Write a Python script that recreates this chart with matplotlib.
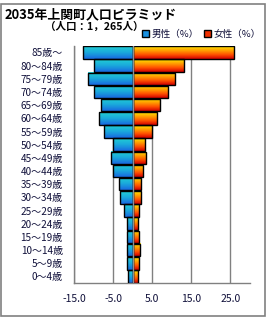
import numpy as np
import matplotlib
matplotlib.use('Agg')
import matplotlib.pyplot as plt
from matplotlib.colors import LinearSegmentedColormap
from matplotlib.patches import Rectangle, Patch

plt.rcParams['font.family'] = ['Noto Sans CJK JP', 'DejaVu Sans']

# age groups, top to bottom
ages = ['85歳～', '80～84歳', '75～79歳', '70～74歳', '65～69歳', '60～64歳',
        '55～59歳', '50～54歳', '45～49歳', '40～44歳', '35～39歳', '30～34歳',
        '25～29歳', '20～24歳', '15～19歳', '10～14歳', '5～9歳', '0～4歳']
male = [12.8, 10.0, 11.3, 10.0, 8.2, 8.7, 7.2, 4.9, 5.6, 4.9,
        3.6, 3.3, 2.3, 1.5, 1.5, 1.5, 1.5, 1.3]
female = [25.9, 13.0, 10.8, 9.0, 6.9, 6.2, 5.0, 3.1, 3.3, 2.6,
          2.1, 2.1, 1.5, 1.3, 1.5, 1.8, 1.5, 1.3]
xticks = [-15, -5, 5, 15, 25]

male_cmap = LinearSegmentedColormap.from_list('m', ['#1868e0', '#1aa8dc', '#22d0d4'])
female_cmap = LinearSegmentedColormap.from_list('f', ['#d00000', '#ff5000', '#ffa000', '#ffe800'])

fig = plt.figure(figsize=(2.7, 3.2), dpi=100)
ax = fig.add_axes([0.274, 0.1156, 0.652, 0.741])

y = np.arange(len(ages))[::-1]
h = 0.95
grad = np.linspace(0, 1, 64).reshape(-1, 1)

for yi, m, f in zip(y, male, female):
    ax.imshow(grad, extent=[-m, 0, yi - h / 2, yi + h / 2], origin='lower',
              aspect='auto', cmap=male_cmap, zorder=2)
    ax.imshow(grad, extent=[0, f, yi - h / 2, yi + h / 2], origin='lower',
              aspect='auto', cmap=female_cmap, zorder=2)

ax.barh(y, [-v for v in male], height=h, fill=False, edgecolor='black', lw=1, zorder=3)
ax.barh(y, female, height=h, fill=False, edgecolor='black', lw=1, zorder=3)
ax.axvline(0, color='#909090', lw=1, zorder=4)

ax.set_xlim(-15, 30)
ax.set_ylim(-0.5, len(ages) - 0.5)
ax.set_xticks(xticks)
ax.set_xticklabels(['%.1f' % v for v in xticks])
ax.set_yticks(y)
ax.set_yticklabels(ages)
ax.tick_params(axis='x', length=0, pad=8, labelsize=7.5, labelcolor='#10103a')
ax.tick_params(axis='y', length=0, pad=8, labelsize=7.2, labelcolor='#10103a')
ax.grid(axis='x', color='#808080', lw=1, zorder=0.5)
ax.set_axisbelow(True)
for s in ['top', 'right']:
    ax.spines[s].set_visible(False)
for s in ['left', 'bottom']:
    ax.spines[s].set_color('#808080')
    ax.spines[s].set_linewidth(1)

# outer frame
fig.patches.append(Rectangle((1 / 270, 4 / 320), 263.5 / 270, 312 / 320,
                             transform=fig.transFigure, fill=False,
                             edgecolor='#808080', lw=1.2))

fig.text(5 / 270, 1 - 14 / 320, '2035年上関町人口ピラミッド', fontsize=9.3,
         fontweight='bold', va='center', ha='left')
fig.text(45 / 270, 1 - 27 / 320, '（人口：1，265人）', fontsize=7.6,
         fontweight='bold', va='center', ha='left')

handles = [Patch(facecolor='#1890e0', edgecolor='black', label='男性（%）'),
           Patch(facecolor='#f03000', edgecolor='black', label='女性（%）')]
fig.legend(handles=handles, loc='center left', bbox_to_anchor=(142 / 270, 1 - 34 / 320),
           ncol=2, frameon=False, fontsize=6.9, handlelength=0.75, handleheight=0.75,
           handletextpad=0.25, columnspacing=0.5, borderaxespad=0, borderpad=0,
           labelcolor='#10103a')

fig.savefig('out.png', dpi=100)
